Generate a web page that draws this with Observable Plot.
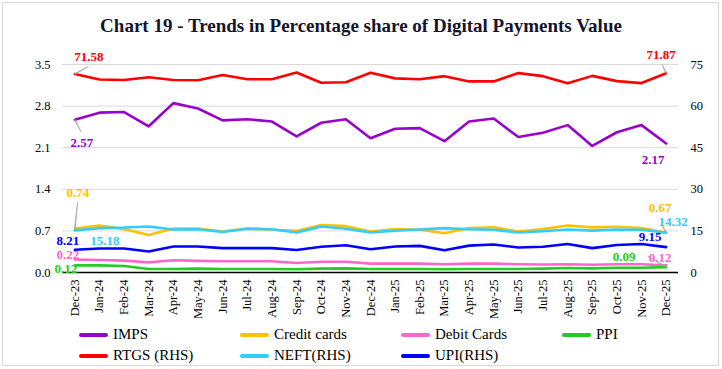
<!DOCTYPE html>
<html><head><meta charset="utf-8">
<script src="https://cdn.jsdelivr.net/npm/d3@7"></script>
<script src="https://cdn.jsdelivr.net/npm/@observablehq/plot@0.6"></script>
<style>
body{margin:0;background:#fff;}
#wrap{position:relative;width:722px;height:369px;overflow:hidden;font-family:"Liberation Serif",serif;background:#fff}
#frame{position:absolute;left:2px;top:2px;width:717px;height:364px;border:1px solid #d9d9d9;box-sizing:border-box;pointer-events:none}
#title{height:42px;position:relative}
#title div{position:absolute;top:15px;left:0;width:722px;text-align:center;font-weight:bold;font-size:19px;line-height:22px;color:#14142e}
#chart svg{display:block}
#legend{position:relative;height:45px;font-size:15px;color:#000}
.item{position:absolute;height:21px;line-height:21px;white-space:nowrap}
.sw{display:inline-block;width:29px;height:4px;vertical-align:middle;margin-right:5px;border-radius:2px;position:relative;top:-1px}
</style></head>
<body>
<div id="wrap">
  <div id="title"><div>Chart 19 - Trends in Percentage share of Digital Payments Value</div></div>
  <div id="chart"></div>
  <div id="legend"></div>
  <div id="frame"></div>
</div>
<script>
const months = ["Dec-23","Jan-24","Feb-24","Mar-24","Apr-24","May-24","Jun-24","Jul-24","Aug-24","Sep-24","Oct-24","Nov-24","Dec-24","Jan-25","Feb-25","Mar-25","Apr-25","May-25","Jun-25","Jul-25","Aug-25","Sep-25","Oct-25","Nov-25","Dec-25"];
// Left axis series (%)
const imps   = [2.57,2.69,2.70,2.46,2.85,2.76,2.56,2.58,2.54,2.29,2.52,2.58,2.26,2.42,2.43,2.21,2.54,2.59,2.28,2.35,2.48,2.13,2.36,2.48,2.17];
const credit = [0.74,0.79,0.73,0.63,0.74,0.74,0.69,0.74,0.72,0.70,0.80,0.78,0.69,0.73,0.72,0.66,0.75,0.76,0.69,0.73,0.79,0.76,0.77,0.75,0.67];
const debit  = [0.22,0.21,0.20,0.17,0.205,0.195,0.19,0.19,0.19,0.16,0.18,0.18,0.15,0.15,0.15,0.14,0.15,0.15,0.14,0.135,0.14,0.13,0.14,0.14,0.12];
const ppi    = [0.12,0.12,0.11,0.06,0.06,0.065,0.06,0.06,0.06,0.055,0.065,0.07,0.06,0.06,0.06,0.055,0.06,0.06,0.06,0.065,0.075,0.07,0.08,0.08,0.09];
// Right axis series (RHS, %)
const rtgs = [71.58,69.6,69.4,70.4,69.4,69.3,71.2,69.7,69.7,72.1,68.4,68.6,72.0,70.0,69.7,70.8,68.9,68.9,71.9,70.8,68.2,70.9,69.0,68.3,71.87];
const neft = [15.18,16.0,16.2,16.6,15.5,15.6,14.6,15.8,15.6,14.4,16.6,15.8,14.4,15.1,15.5,16.0,15.6,15.4,14.4,14.9,15.5,15.1,15.5,15.4,14.32];
const upi  = [8.21,8.65,8.65,7.57,9.4,9.4,8.8,8.8,8.8,8.1,9.3,9.8,8.4,9.4,9.6,8.05,9.7,10.1,9.0,9.3,10.3,8.8,9.9,10.3,9.15];

const leftTicks = [0,0.7,1.4,2.1,2.8,3.5];
const rightTicks = [0,15,30,45,60,75];

const seriesNames = ["IMPS","Credit cards","Debit Cards","PPI","RTGS (RHS)","NEFT(RHS)","UPI(RHS)"];
const seriesColors = ["#9900CC","#FFC000","#FF66CC","#22CC22","#FF0000","#33CCFF","#0000FF"];

const k = leftTicks[leftTicks.length-1] / rightTicks[rightTicks.length-1];
const allSeries = [
  {name:"IMPS", vals:imps, s:1, color:seriesColors[0]},
  {name:"Credit cards", vals:credit, s:1, color:seriesColors[1]},
  {name:"Debit Cards", vals:debit, s:1, color:seriesColors[2]},
  {name:"PPI", vals:ppi, s:1, color:seriesColors[3]},
  {name:"RTGS (RHS)", vals:rtgs, s:k, color:seriesColors[4]},
  {name:"NEFT(RHS)", vals:neft, s:k, color:seriesColors[5]},
  {name:"UPI(RHS)", vals:upi, s:k, color:seriesColors[6]}
];
const rows = s => s.vals.map((v,i)=>({x:months[i], y:v*s.s, v}));

// data labels (first and last points): series index, point index, offsets, label colour, leader
const labelSpec = [
  {si:4, i:0,  dx:14,  dy:-17, c:"#FF0000", lead:[15.6,61]},
  {si:4, i:24, dx:-5,  dy:-18, c:"#FF0000", lead:[9.6,-25]},
  {si:0, i:0,  dx:7,   dy:23,  c:"#9900CC", lead:[13.4,153]},
  {si:0, i:24, dx:-13, dy:16,  c:"#9900CC"},
  {si:1, i:0,  dx:3,   dy:-36, c:"#FFC000", lead:[27,6]},
  {si:1, i:24, dx:-6,  dy:-25, c:"#FFC000"},
  {si:5, i:0,  dx:30,  dy:10,  c:"#33CCFF"},
  {si:5, i:24, dx:7,   dy:-11, c:"#33CCFF", lead:[10.7,-28]},
  {si:6, i:0,  dx:-7,  dy:-9,  c:"#0000FF"},
  {si:6, i:24, dx:-16, dy:-10, c:"#0000FF"},
  {si:2, i:0,  dx:-7,  dy:-5,  c:"#FF66CC"},
  {si:2, i:24, dx:-6,  dy:-8,  c:"#FF66CC"},
  {si:3, i:0,  dx:-9,  dy:3,   c:"#22CC22"},
  {si:3, i:24, dx:-42, dy:-10, c:"#22CC22", lead:[21,-59]}
];
const labels = labelSpec.map(l => {
  const s = allSeries[l.si];
  const v = s.vals[l.i];
  return {...l, x:months[l.i], y:v*s.s, t:v.toFixed(2)};
});

const marks = [
  Plot.ruleY(leftTicks.filter(t=>t>0), {stroke:"#d9d9d9", strokeWidth:1}),
  Plot.ruleY([0], {stroke:"#000", strokeWidth:1.3}),
  Plot.axisY(leftTicks, {anchor:"left", tickSize:0, tickPadding:12, tickFormat:d=>d.toFixed(1), label:null}),
  Plot.axisY(rightTicks.map(t=>t*k), {anchor:"right", tickSize:0, tickPadding:12, tickFormat:d=>String(Math.round(d/k)), label:null}),
  Plot.axisX({anchor:"bottom", tickSize:0, tickPadding:7, tickRotate:-90, label:null}),
  ...allSeries.map(s => Plot.line(rows(s), {x:"x", y:"y", stroke:s.color, strokeWidth:2.6, strokeLinejoin:"round"})),
  ...labels.filter(l=>l.lead).map(l => Plot.vector([l], {x:"x", y:"y", length:l.lead[0], rotate:l.lead[1], anchor:"start", shape:"spike", r:0.45, fill:"#a6a6a6", stroke:"#a6a6a6", strokeWidth:0.6})),
  ...labels.map(l => Plot.text([l], {x:"x", y:"y", text:"t", dx:l.dx, dy:l.dy, fill:l.c, fontWeight:"bold", fontSize:13}))
];

const chart = Plot.plot({
  width:722, height:282,
  marginLeft:62, marginRight:44, marginTop:22, marginBottom:52,
  x:{type:"point", domain:months, padding:0.5, round:false},
  y:{domain:[0,3.5]},
  style:{fontFamily:"'Liberation Serif', serif", fontSize:"12.5px", color:"#000", background:"transparent"},
  marks
});
document.getElementById("chart").appendChild(chart);

// legend
const legend = document.getElementById("legend");
seriesNames.forEach((n,i)=>{
  const col = i<4 ? i : i-4, row = i<4 ? 0 : 1;
  const d = document.createElement("div");
  d.className = "item";
  d.style.left = (79 + col*161) + "px";
  d.style.top = (0 + row*21) + "px";
  d.innerHTML = `<span class="sw" style="background:${seriesColors[i]}"></span>${n}`;
  legend.appendChild(d);
});
</script>
</body></html>
